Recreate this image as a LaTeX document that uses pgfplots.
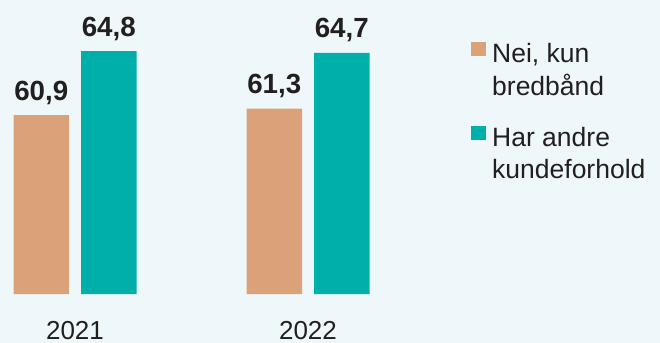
\documentclass[border=0pt]{standalone}
\usepackage{fontspec}
\setmainfont{Liberation Sans}
\usepackage{pgfplots}
\pgfplotsset{compat=1.18}
\definecolor{bg}{HTML}{EEF7F9}
\definecolor{orng}{HTML}{DBA27A}
\definecolor{teal2}{HTML}{00AFAA}
\definecolor{txt}{HTML}{231F20}
\begin{document}
\begin{tikzpicture}
\useasboundingbox (0bp,0bp) rectangle (660bp,343bp);
\fill[bg] (0bp,0bp) rectangle (660bp,343bp);
\begin{axis}[
  at={(0bp,49bp)}, anchor=south west,
  scale only axis,
  width=660bp, height=294bp,
  xmin=-0.32189, xmax=2.51073,
  ymin=50, ymax=67.92,
  axis line style={draw=none},
  major tick length=0pt,
  ytick=\empty,
  xtick={0,1}, xticklabels={2021,2022},
  xticklabel style={anchor=base, yshift=-45bp, font=\fontsize{26bp}{30bp}\selectfont, text=txt},
  ybar, bar width=55.5bp,
  clip=false,
  nodes near coords,
  nodes near coords style={anchor=base, yshift=15bp, font=\bfseries\fontsize{27.7bp}{30bp}\selectfont, text=txt},
  legend style={at={(0.7091,0.864)}, anchor=north west, draw=none, fill=none,
    font=\fontsize{26.5bp}{32.5bp}\selectfont, text=txt,
    cells={anchor=west, align=left}, nodes={inner sep=0pt}, column sep=6bp, row sep=29bp},
  /pgf/number format/use comma,
  /pgf/number format/fixed,
  /pgf/number format/fixed zerofill,
  /pgf/number format/precision=1,
  /pgf/number format/assume math mode=true,
]
\addplot[fill=orng, draw=none, bar shift=-33.75bp,
  legend image code/.code={\fill[orng] (0bp,14bp) rectangle (15bp,28bp);}]
  coordinates {(0,60.9) (1,61.3)};
\addlegendentry{Nei, kun\\bredbånd}
\addplot[fill=teal2, draw=none, bar shift=33.75bp,
  legend image code/.code={\fill[teal2] (0bp,14bp) rectangle (15bp,28bp);}]
  coordinates {(0,64.8) (1,64.7)};
\addlegendentry{Har andre\\kundeforhold}
\end{axis}
\end{tikzpicture}
\end{document}
